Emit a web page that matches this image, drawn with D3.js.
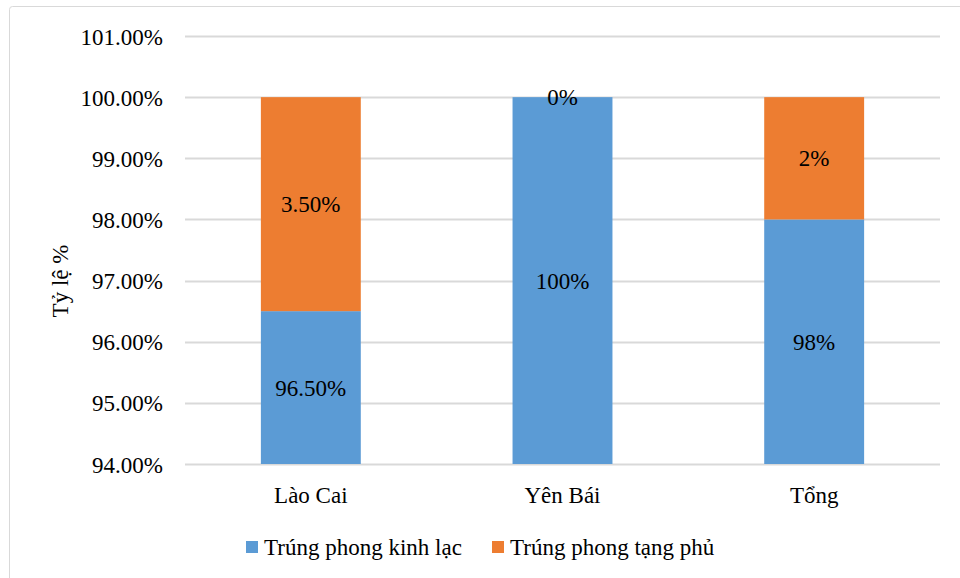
<!DOCTYPE html>
<html>
<head>
<meta charset="utf-8">
<script src="https://cdn.jsdelivr.net/npm/d3@7"></script>
<style>
  body { margin: 0; background: #fff; }
  svg text { font-family: "Liberation Serif", "Times New Roman", "DejaVu Serif", serif !important; fill: #000; }
</style>
</head>
<body>
<svg id="chart" width="960" height="578"></svg>
<script>
// Stacked shares per region
const categories = ["Lào Cai", "Yên Bái", "Tổng"];
const seriesNames = ["Trúng phong kinh lạc", "Trúng phong tạng phủ"];
const kinhLac = [96.5, 100, 98];
const tangPhu = [3.5, 0, 2];
const kinhLacLabels = ["96.50%", "100%", "98%"];
const tangPhuLabels = ["3.50%", "0%", "2%"];
const yTicks = [94, 95, 96, 97, 98, 99, 100, 101];
const colors = ["#5B9BD5", "#ED7D31"];

const FONT = 23;
const svg = d3.select("#chart");

// Chart frame
svg.append("rect")
  .attr("x", 9.5).attr("y", 6.5)
  .attr("width", 960).attr("height", 600)
  .attr("rx", 3)
  .attr("fill", "#fff")
  .attr("stroke", "#D9D9D9")
  .attr("stroke-width", 1);

const plot = { left: 185, right: 940, top: 36, bottom: 464 };

const x = d3.scaleBand().domain(categories).range([plot.left, plot.right]).padding(0);
const y = d3.scaleLinear().domain([94, 101]).range([plot.bottom, plot.top]);
const barW = x.bandwidth() * 0.397;

// Gridlines
svg.append("g")
  .selectAll("line")
  .data(yTicks)
  .join("line")
  .attr("x1", plot.left).attr("x2", plot.right)
  .attr("y1", d => Math.round(y(d)) + 0.5)
  .attr("y2", d => Math.round(y(d)) + 0.5)
  .attr("stroke", "#D9D9D9")
  .attr("stroke-width", 2);

// Y axis labels
const yAxis = d3.axisLeft(y).tickValues(yTicks).tickSize(0).tickPadding(0)
  .tickFormat(d => d3.format(".2f")(d) + "%");
const yg = svg.append("g").attr("transform", `translate(${plot.left - 22},0)`).call(yAxis);
yg.select(".domain").remove();
yg.selectAll("text")
  .attr("font-size", FONT)
  .attr("dy", "0.35em");

// Stacked data
const rows = categories.map((c, i) => ({ cat: c, kinhLac: kinhLac[i], tangPhu: tangPhu[i] }));
const stack = d3.stack().keys(["kinhLac", "tangPhu"]);
const stacked = stack(rows);
const labelSets = [kinhLacLabels, tangPhuLabels];

stacked.forEach((layer, li) => {
  svg.append("g")
    .selectAll("rect")
    .data(layer)
    .join("rect")
    .attr("x", d => x(d.data.cat) + x.bandwidth() / 2 - barW / 2)
    .attr("width", barW)
    .attr("y", d => y(Math.min(d[1], 101)))
    .attr("height", d => Math.max(0, y(Math.max(d[0], 94)) - y(Math.min(d[1], 101))))
    .attr("fill", colors[li]);
});

// Segment value labels
stacked.forEach((layer, li) => {
  svg.append("g")
    .selectAll("text")
    .data(layer)
    .join("text")
    .attr("x", d => x(d.data.cat) + x.bandwidth() / 2)
    .attr("y", d => y((Math.max(d[0], 94) + d[1]) / 2))
    .attr("dy", "0.35em")
    .attr("text-anchor", "middle")
    .attr("font-size", FONT)
    .text((d, i) => labelSets[li][i]);
});

// Category labels
const xAxis = d3.axisBottom(x).tickSize(0).tickPadding(0);
const xg = svg.append("g").attr("transform", `translate(0,${plot.bottom + 31})`).call(xAxis);
xg.select(".domain").remove();
xg.selectAll("text")
  .attr("font-size", FONT)
  .attr("dy", "0.35em");

// Y axis title
svg.append("text")
  .attr("transform", "translate(60,281) rotate(-90)")
  .attr("text-anchor", "middle")
  .attr("dy", "0.35em")
  .attr("font-size", FONT)
  .text("Tỷ lệ %");

// Legend
const legendX = [246, 492];
const legend = svg.append("g");
seriesNames.forEach((name, i) => {
  legend.append("rect")
    .attr("x", legendX[i]).attr("y", 541)
    .attr("width", 12).attr("height", 12)
    .attr("fill", colors[i]);
  legend.append("text")
    .attr("x", legendX[i] + 18).attr("y", 547)
    .attr("dy", "0.35em")
    .attr("font-size", FONT)
    .text(name);
});
</script>
</body>
</html>
